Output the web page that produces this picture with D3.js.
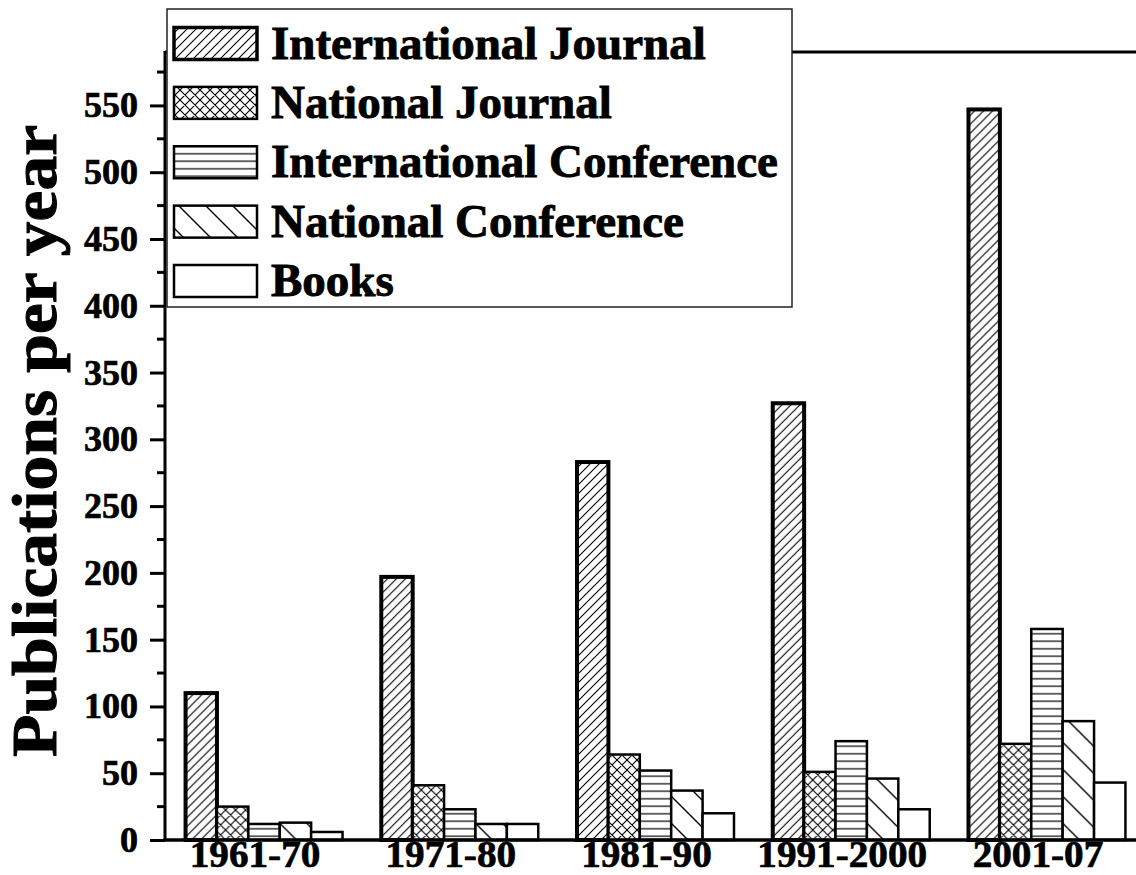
<!DOCTYPE html>
<html><head><meta charset="utf-8">
<script src="https://cdn.jsdelivr.net/npm/d3@7/dist/d3.min.js"></script>
<style>
html,body{margin:0;padding:0;background:#fff;}
svg{display:block;font-family:"Liberation Serif","Times New Roman",serif;font-weight:bold;}
</style></head>
<body>
<svg id="chart" width="1136" height="875"></svg>
<script>
const categories = ["1961-70","1971-80","1981-90","1991-2000","2001-07"];
const seriesNames = ["International Journal","National Journal","International Conference","National Conference","Books"];
const intlJournal = [110,197,283,327,547];
const natJournal  = [25,41,64,51,72];
const intlConf    = [12,23,52,74,158];
const natConf     = [13,12,37,46,89];
const books       = [6,12,20,23,43];
const yTickValues = [0,50,100,150,200,250,300,350,400,450,500,550];
const yTitle = "Publications per year";

const seriesValues = [intlJournal, natJournal, intlConf, natConf, books];
const patterns = ["pIJ","pNJ","pIC","pNC",null];
const strokeW = [4,2.5,2.5,2.5,2.5];

const svg = d3.select("#chart");
const pLeft = 165, pRight = 1146, pTop = 52, pBottom = 840;

const x = d3.scaleBand().domain(categories).range([pLeft, pRight]).paddingInner(0.198).paddingOuter(0.105);
const xs = d3.scaleBand().domain(seriesNames).range([0, x.bandwidth()]);
const y = d3.scaleLinear().domain([0, 590]).range([pBottom, pTop]);

// patterns
const defs = svg.append("defs");
function pat(id, w, h, d, sw){
  const p = defs.append("pattern").attr("id", id).attr("patternUnits","userSpaceOnUse").attr("width", w).attr("height", h);
  p.append("rect").attr("width", w).attr("height", h).attr("fill","#fff");
  p.append("path").attr("d", d).attr("stroke","#000").attr("stroke-width", sw).attr("fill","none");
}
pat("pIJ", 9, 9, "M-1,10 L10,-1 M-1,1 L1,-1 M8,10 L10,8", 1.1);
pat("pNJ", 10, 10, "M-1,11 L11,-1 M-1,1 L1,-1 M9,11 L11,9 M-1,-1 L11,11 M-1,9 L1,11 M9,-1 L11,1", 1.1);
pat("pIC", 10, 7.5, "M0,3.75 L10,3.75", 1.2);
pat("pNC", 27, 27, "M0,0 L27,27 M-1,26 L1,28 M26,-1 L28,1", 1.4);

// frame line (top)
svg.append("line").attr("x1", pLeft).attr("x2", pRight).attr("y1", pTop).attr("y2", pTop).attr("stroke","#000").attr("stroke-width",3);

// bars
const rows = categories.map((c,i)=>({cat:c, vals: seriesNames.map((s,j)=>({s, j, v: seriesValues[j][i]}))}));
const g = svg.append("g").selectAll("g").data(rows).join("g").attr("transform", d=>`translate(${x(d.cat)},0)`);
g.selectAll("rect").data(d=>d.vals).join("rect")
  .attr("x", d=>xs(d.s)).attr("width", xs.bandwidth())
  .attr("y", d=>y(d.v)).attr("height", d=>y(0)-y(d.v))
  .attr("fill", d=>patterns[d.j] ? `url(#${patterns[d.j]})` : "#fff")
  .attr("stroke","#000").attr("stroke-width", d=>strokeW[d.j]);

// y axis
const yAxis = d3.axisLeft(y).tickValues(yTickValues).tickSize(15).tickPadding(12).tickFormat(d3.format("d"));
const ya = svg.append("g").attr("transform",`translate(${pLeft},0)`).call(yAxis);
ya.select(".domain").remove();
ya.selectAll(".tick line").attr("stroke","#000").attr("stroke-width",3);
ya.selectAll(".tick text").attr("font-size",36).attr("font-family","Liberation Serif").attr("font-weight","bold")
  .attr("fill","#000").attr("stroke","#000").attr("stroke-width",0.7);
const minor = d3.range(25, 590, 50);
svg.append("g").selectAll("line").data(minor).join("line")
  .attr("x1", pLeft-8).attr("x2", pLeft).attr("y1", d=>y(d)).attr("y2", d=>y(d)).attr("stroke","#000").attr("stroke-width",3);
svg.append("line").attr("x1", pLeft).attr("x2", pLeft).attr("y1", pTop-1).attr("y2", pBottom).attr("stroke","#000").attr("stroke-width",3);

// x axis
svg.append("line").attr("x1", pLeft-1.5).attr("x2", pRight).attr("y1", pBottom).attr("y2", pBottom).attr("stroke","#000").attr("stroke-width",3.5);
svg.append("g").selectAll("text").data(categories).join("text")
  .attr("x", d=>x(d)+x.bandwidth()/2-9).attr("y", pBottom+26.5)
  .attr("text-anchor","middle").attr("font-size",38)
  .attr("stroke","#000").attr("stroke-width",0.7)
  .attr("textLength", d=>d.replace(/-/g,"").length*19.6 + (d.match(/-/g)||[]).length*13)
  .attr("lengthAdjust","spacingAndGlyphs")
  .text(d=>d);

// y title
svg.append("text").attr("transform",`translate(56,441) rotate(-90)`)
  .attr("text-anchor","middle").attr("font-size",64)
  .attr("stroke","#000").attr("stroke-width",1)
  .attr("textLength",632).attr("lengthAdjust","spacingAndGlyphs")
  .text(yTitle);

// legend
const lg = svg.append("g");
lg.append("rect").attr("x",167).attr("y",9).attr("width",625).attr("height",298).attr("fill","#fff").attr("stroke","#222").attr("stroke-width",1.5);
const rowY = d3.scalePoint().domain(seriesNames).range([43.5, 281]);
const li = lg.selectAll("g.li").data(seriesNames).join("g").attr("class","li");
li.append("rect").attr("x",174).attr("y", d=>rowY(d)-16).attr("width",83).attr("height",32)
  .attr("fill", (d,i)=>patterns[i] ? `url(#${patterns[i]})` : "#fff")
  .attr("stroke","#000").attr("stroke-width",(d,i)=> i===0 ? 3.5 : 2.5);
li.append("text").attr("x",271).attr("y", d=>rowY(d)+15).attr("font-size",47)
  .attr("stroke","#000").attr("stroke-width",0.9).text(d=>d);
</script>
</body></html>
